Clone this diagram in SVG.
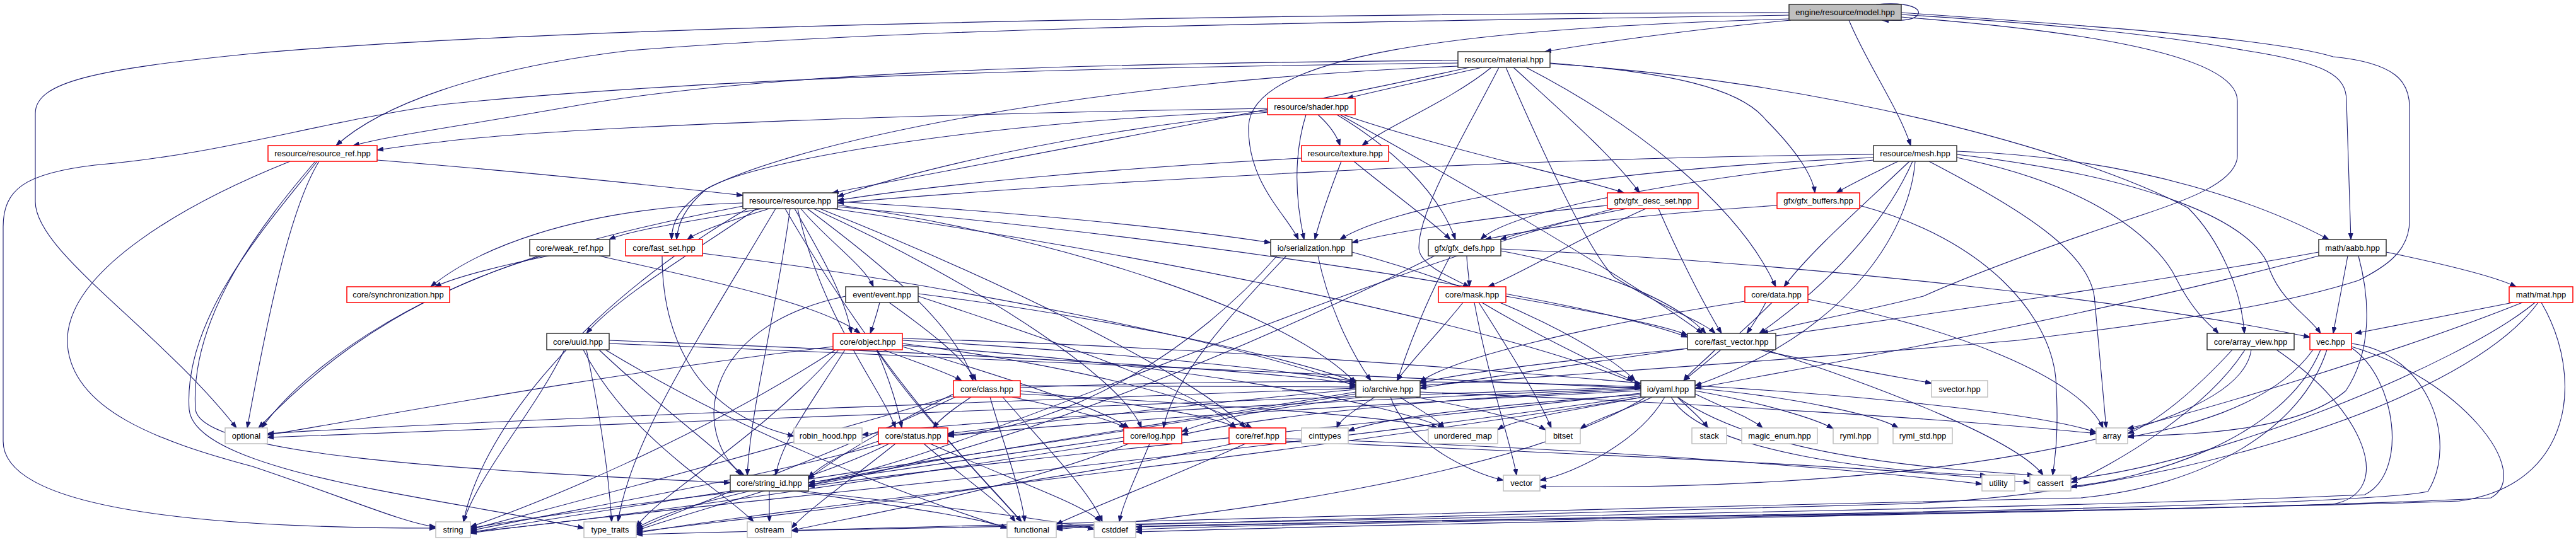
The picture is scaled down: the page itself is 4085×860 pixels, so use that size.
<svg xmlns="http://www.w3.org/2000/svg" width="4085" height="860" viewBox="0 0 4085 860">
<style>
.bg{fill:#fff}
.n rect{fill:#fff;stroke:#333;stroke-width:1.5}
.n.r rect{stroke:#f00}
.n.x rect{stroke:#bfbfbf}
.n.root rect{fill:#bfbfbf;stroke:#333}
.n text{font-family:"Liberation Sans",Arial,Helvetica,sans-serif;font-size:13px;text-anchor:middle;fill:#000}
#edges path{fill:none;stroke:#191970;stroke-width:1.1;marker-end:url(#a)}
</style>
<defs>
<marker id="a" markerWidth="11" markerHeight="8" refX="10" refY="4" orient="auto" markerUnits="userSpaceOnUse">
<path d="M0,0.5 L10,4 L0,7.5 z" fill="#191970" stroke="#191970" stroke-width="1"/>
</marker>
</defs>
<rect class="bg" x="0" y="0" width="4085" height="860"/>
<g id="edges">
<path d="M2975,7 C3030,2 3050,15 3040,25 C3032,33 3010,33 2985,32"/>
<path d="M2840,32 C2700,45 2550,65 2450,82"/>
<path d="M2932,32 C2960,100 3010,170 3030,231"/>
<path d="M2837,24 C2200,35 1500,40 1000,80 C750,110 600,170 533,231"/>
<path d="M2837,20 C2000,22 900,40 400,85 C150,110 56,130 56,180 L56,320 C56,400 250,520 375,679"/>
<path d="M2837,30 C2300,45 1985,90 1980,200 C1978,290 2040,340 2059,380"/>
<path d="M3015,23 C3200,35 3400,50 3560,80 C3690,100 3721,120 3721,160 L3728,380"/>
<path d="M3015,27 C3250,45 3548,80 3548,160 L3548,247 C3548,290 3460,320 3400,340 C3250,390 3140,430 3050,470 C2930,500 2840,515 2794,529"/>
<path d="M3015,20 C3300,40 3600,60 3700,90 C3800,100 3821,130 3821,170 L3821,350 C3821,400 3780,425 3740,445 C3600,490 3400,515 3200,540 C2800,575 2400,600 2252,612"/>
<path d="M2350,107 C2250,130 2180,145 2136,156"/>
<path d="M2365,107 C2300,160 2200,200 2160,231"/>
<path d="M2312,96 C1700,100 1200,115 900,170 C700,205 620,215 560,231"/>
<path d="M2312,100 C1600,108 1050,130 700,166 C500,195 350,245 150,262 C40,275 5,300 5,360 L5,700 C5,820 400,838 691,838"/>
<path d="M2330,107 C2000,180 1500,270 1320,306"/>
<path d="M2400,107 C2480,180 2560,250 2600,306"/>
<path d="M2458,100 C2650,115 2760,140 2800,190 C2850,240 2875,280 2878,306"/>
<path d="M2377,107 C2330,200 2250,330 2250,393 C2250,420 2300,440 2330,455"/>
<path d="M2388,107 C2450,250 2520,400 2560,440 C2640,490 2700,510 2720,529"/>
<path d="M2420,107 C2600,200 2760,330 2816,455"/>
<path d="M2458,101 C2900,130 3300,240 3470,330 C3520,380 3555,460 3559,529"/>
<path d="M2312,105 C1700,130 1250,230 1120,300 C1075,330 1065,355 1065,380"/>
<path d="M2010,172 C1500,180 900,200 700,225 C650,230 620,235 598,238"/>
<path d="M2010,178 C1700,210 1450,270 1328,312"/>
<path d="M2010,176 C1600,190 1200,250 1120,300 C1085,330 1075,355 1073,380"/>
<path d="M2090,182 C2110,200 2120,215 2125,231"/>
<path d="M2071,182 C2050,250 2055,320 2068,380"/>
<path d="M2120,182 C2200,230 2280,300 2308,380"/>
<path d="M2130,182 C2300,240 2500,280 2575,306"/>
<path d="M2125,182 C2300,280 2550,420 2700,529"/>
<path d="M598,254 C800,270 1000,290 1178,310"/>
<path d="M506,256 C460,330 425,500 392,679"/>
<path d="M460,256 C300,320 100,430 107,547 C115,650 250,700 400,740 C550,790 640,830 691,836"/>
<path d="M500,256 C420,350 300,500 310,650 C320,720 700,745 1158,766"/>
<path d="M503,256 C430,350 290,500 300,650 C310,750 700,790 926,838"/>
<path d="M2064,251 C1800,265 1500,290 1328,318"/>
<path d="M2127,256 C2110,300 2095,340 2085,380"/>
<path d="M2147,256 C2200,300 2270,350 2300,380"/>
<path d="M2971,245 C2400,250 1700,290 1328,322"/>
<path d="M2971,250 C2500,270 2200,330 2125,380"/>
<path d="M2971,254 C2700,280 2400,330 2348,380"/>
<path d="M3010,256 C2960,280 2930,295 2912,306"/>
<path d="M3028,256 C2950,330 2870,400 2829,455"/>
<path d="M3033,256 C3000,330 2930,430 2790,529"/>
<path d="M3037,256 C3030,350 2950,520 2688,612"/>
<path d="M3059,256 C3200,330 3320,400 3322,480 L3340,679"/>
<path d="M3103,245 C3400,280 3580,350 3600,430 C3620,480 3660,500 3680,529"/>
<path d="M3103,240 C3400,250 3600,330 3693,380"/>
<path d="M3103,250 C3350,300 3430,400 3450,440 C3480,500 3510,520 3518,529"/>
<path d="M1210,331 C1100,350 1000,365 966,380"/>
<path d="M1220,331 C1160,350 1110,365 1090,380"/>
<path d="M1178,322 C900,330 750,400 683,455"/>
<path d="M1178,327 C800,400 600,480 410,679"/>
<path d="M1185,331 C900,500 760,700 735,828"/>
<path d="M1200,331 C1100,400 980,470 930,529"/>
<path d="M1270,331 C1310,380 1370,420 1385,455"/>
<path d="M1260,331 C1300,400 1340,470 1350,529"/>
<path d="M1280,331 C1400,420 1520,520 1543,604"/>
<path d="M1253,331 C1230,500 1190,650 1185,754"/>
<path d="M1265,331 C1300,500 1400,620 1420,679"/>
<path d="M1328,320 C1600,335 1850,360 2015,385"/>
<path d="M1328,325 C1700,380 2050,500 2150,608"/>
<path d="M1320,331 C1800,400 2400,520 2602,612"/>
<path d="M1245,331 C1400,600 1550,750 1620,828"/>
<path d="M1300,331 C1600,450 1900,600 1975,679"/>
<path d="M1328,328 C1900,380 2500,470 2676,535"/>
<path d="M1230,331 C1100,550 1000,700 980,828"/>
<path d="M1290,331 C1550,450 1780,600 1810,679"/>
<path d="M2549,326 C2350,345 2200,370 2144,385"/>
<path d="M2580,331 C2480,350 2410,370 2379,380"/>
<path d="M2610,331 C2500,380 2420,430 2360,455"/>
<path d="M2630,331 C2660,400 2700,480 2730,529"/>
<path d="M2560,331 C2100,450 1500,740 1282,766"/>
<path d="M2818,326 C2600,340 2450,360 2355,380"/>
<path d="M2949,326 C3150,380 3250,500 3260,600 C3265,680 3260,720 3255,754"/>
<path d="M870,406 C800,420 720,440 690,455"/>
<path d="M860,406 C700,450 500,560 415,679"/>
<path d="M950,406 C1100,440 1300,480 1364,529"/>
<path d="M1050,406 C1050,500 1080,650 1259,692"/>
<path d="M1114,402 C1500,450 1950,540 2150,612"/>
<path d="M2090,406 C2110,500 2150,570 2174,604"/>
<path d="M2144,400 C2400,470 2550,560 2593,604"/>
<path d="M2040,406 C1950,500 1860,600 1845,679"/>
<path d="M2025,406 C1900,550 1700,680 1503,690"/>
<path d="M2326,406 C2326,420 2330,440 2330,455"/>
<path d="M2380,398 C2550,430 2660,480 2705,529"/>
<path d="M2275,406 C2050,520 1600,720 1282,770"/>
<path d="M2300,406 C2260,480 2230,560 2216,604"/>
<path d="M2380,395 C2900,420 3400,480 3663,535"/>
<path d="M3723,406 C3715,450 3705,500 3700,529"/>
<path d="M3740,406 C3760,480 3760,560 3720,620 C3650,680 3500,690 3374,692"/>
<path d="M3784,400 C3880,420 3960,440 3990,455"/>
<path d="M3677,400 C3300,470 2600,560 2252,616"/>
<path d="M3677,406 C3400,480 3000,560 2688,616"/>
<path d="M1395,480 C1390,500 1385,515 1380,529"/>
<path d="M1410,480 C1480,530 1530,570 1548,604"/>
<path d="M1341,470 C1100,520 1100,700 1180,754"/>
<path d="M1456,470 C1700,550 1900,620 1960,679"/>
<path d="M1456,466 C1800,510 2050,570 2150,606"/>
<path d="M895,555 C850,650 760,750 735,828"/>
<path d="M930,555 C950,650 965,750 970,828"/>
<path d="M925,555 C1000,700 1150,780 1195,828"/>
<path d="M960,555 C1200,700 1450,790 1597,838"/>
<path d="M950,555 C1050,650 1150,720 1175,754"/>
<path d="M966,540 C1500,560 2000,585 2150,610"/>
<path d="M966,545 C1600,570 2300,600 2602,616"/>
<path d="M1400,555 C1470,580 1510,595 1525,604"/>
<path d="M1390,555 C1410,600 1425,650 1430,679"/>
<path d="M1340,555 C1280,650 1240,700 1230,754"/>
<path d="M1431,545 C1700,580 1900,630 1985,679"/>
<path d="M1431,550 C1600,600 1750,650 1790,679"/>
<path d="M1431,540 C1800,560 2050,590 2155,606"/>
<path d="M1431,537 C1900,550 2400,590 2602,608"/>
<path d="M1390,555 C1450,650 1580,780 1620,828"/>
<path d="M1330,555 C1200,700 1050,780 1009,836"/>
<path d="M1325,555 C1100,700 850,800 746,836"/>
<path d="M1431,548 C1900,580 2200,640 2290,679"/>
<path d="M1321,550 C900,600 500,680 424,690"/>
<path d="M1540,630 C1510,650 1490,665 1480,679"/>
<path d="M1570,630 C1590,700 1620,780 1625,828"/>
<path d="M1590,630 C1650,700 1730,780 1748,828"/>
<path d="M1618,620 C1800,640 1930,660 1960,679"/>
<path d="M1605,630 C1700,650 1760,665 1785,679"/>
<path d="M1512,625 C1400,680 1320,730 1282,760"/>
<path d="M1618,612 C1850,612 2050,612 2150,614"/>
<path d="M1618,615 C2000,600 2400,605 2602,614"/>
<path d="M1618,625 C1900,640 2200,660 2280,679"/>
<path d="M1512,628 C1200,720 900,800 746,840"/>
<path d="M1515,630 C1300,730 1100,800 1009,840"/>
<path d="M1400,704 C1200,760 900,810 746,842"/>
<path d="M1410,704 C1300,760 1100,810 1009,842"/>
<path d="M1420,704 C1350,760 1280,810 1255,838"/>
<path d="M1465,704 C1530,760 1590,800 1610,828"/>
<path d="M1475,704 C1600,760 1720,800 1745,828"/>
<path d="M1393,700 C1330,720 1300,740 1282,758"/>
<path d="M1823,704 C1800,760 1780,800 1775,828"/>
<path d="M1782,694 C1600,720 1400,750 1282,766"/>
<path d="M1782,700 C1400,760 1000,820 746,844"/>
<path d="M1790,704 C1600,780 1350,820 1255,842"/>
<path d="M1975,704 C1850,760 1720,810 1675,832"/>
<path d="M1955,704 C1600,780 1200,820 1009,844"/>
<path d="M2039,700 C2500,720 3000,740 3219,766"/>
<path d="M2039,696 C2500,710 2900,740 3143,768"/>
<path d="M1220,779 L1220,828"/>
<path d="M1180,779 C1000,800 850,820 746,838"/>
<path d="M1190,779 C1100,800 1050,815 1009,838"/>
<path d="M1260,779 C1400,800 1550,820 1597,838"/>
<path d="M1270,779 C1450,800 1650,820 1735,840"/>
<path d="M2320,480 C2280,530 2240,570 2215,604"/>
<path d="M2350,480 C2450,540 2560,590 2590,604"/>
<path d="M2345,480 C2390,550 2440,630 2460,679"/>
<path d="M2338,480 C2360,600 2395,700 2405,754"/>
<path d="M2388,470 C2500,490 2640,515 2676,532"/>
<path d="M2800,480 C2790,500 2780,515 2770,529"/>
<path d="M2767,478 C2500,520 2300,570 2252,606"/>
<path d="M2810,480 C2760,530 2700,580 2670,604"/>
<path d="M2867,475 C3100,520 3300,600 3335,679"/>
<path d="M2790,555 C2900,580 3020,600 3063,608"/>
<path d="M2720,555 C2700,575 2680,590 2670,604"/>
<path d="M2676,553 C2500,570 2320,590 2252,608"/>
<path d="M2800,555 C3000,620 3200,700 3240,754"/>
<path d="M2180,630 C2150,650 2125,665 2120,679"/>
<path d="M2220,630 C2250,650 2280,665 2290,679"/>
<path d="M2245,630 C2350,650 2430,670 2451,682"/>
<path d="M2205,630 C2230,700 2330,750 2384,762"/>
<path d="M2150,625 C1700,700 1000,800 746,845"/>
<path d="M2150,622 C1800,680 1400,740 1282,770"/>
<path d="M2150,618 C1900,640 1650,670 1503,688"/>
<path d="M2160,630 C2000,650 1920,665 1874,685"/>
<path d="M2252,622 C2700,640 3100,665 3324,688"/>
<path d="M2150,616 C1500,640 700,670 424,688"/>
<path d="M2602,626 C2400,640 2200,660 2138,684"/>
<path d="M2605,630 C2500,650 2400,665 2375,682"/>
<path d="M2620,630 C2580,650 2530,665 2506,680"/>
<path d="M2660,630 C2680,650 2700,665 2708,679"/>
<path d="M2688,625 C2740,650 2780,665 2795,679"/>
<path d="M2688,620 C2800,640 2880,665 2907,680"/>
<path d="M2688,616 C2850,630 2980,660 3010,679"/>
<path d="M2688,612 C3000,630 3250,660 3324,686"/>
<path d="M2640,630 C2600,700 2500,750 2442,762"/>
<path d="M2650,630 C2700,720 3000,750 3150,754"/>
<path d="M2660,630 C2800,730 3100,745 3225,754"/>
<path d="M2602,628 C2000,720 1000,810 746,846"/>
<path d="M2602,624 C2100,680 1500,740 1282,772"/>
<path d="M2602,620 C2200,640 1700,670 1503,692"/>
<path d="M2602,618 C2300,630 2000,660 1874,690"/>
<path d="M2602,614 C1800,640 800,680 424,694"/>
<path d="M2602,616 C2000,640 1500,670 1367,690"/>
<path d="M2605,630 C2000,730 1200,810 1009,846"/>
<path d="M2610,630 C2400,760 1900,820 1675,840"/>
<path d="M3560,555 C3500,650 3350,740 3284,766"/>
<path d="M3570,555 C3550,700 3000,780 2442,772"/>
<path d="M3540,555 C3480,620 3420,670 3374,688"/>
<path d="M3610,555 C3750,650 3800,780 3700,800 C3300,815 2200,825 1801,840"/>
<path d="M3668,555 C3600,650 3450,680 3374,694"/>
<path d="M3680,555 C3620,700 3400,760 3284,772"/>
<path d="M3729,545 C3850,560 3900,700 3850,780 C3700,810 2400,820 1675,838"/>
<path d="M3729,550 C3900,600 4020,750 3950,790 C3600,810 2400,825 1801,844"/>
<path d="M3729,552 C3800,600 3820,750 3750,785 C3200,810 1800,830 1255,842"/>
<path d="M3690,555 C3650,680 3500,770 3300,790 C2500,810 1500,830 1009,848"/>
<path d="M3985,480 C3880,500 3780,520 3735,529"/>
<path d="M4000,480 C3800,560 3500,650 3374,680"/>
<path d="M4020,480 C3900,580 3500,740 3284,760"/>
<path d="M4025,480 C3900,650 3400,790 3000,800 C2500,810 2000,825 1675,836"/>
<path d="M4030,480 C4100,600 4080,770 3900,795 C3500,810 2500,820 1801,836"/>
</g>
<g id="n_model" class="n root"><rect x="2837" y="7" width="178" height="25"/><text x="2926" y="24">engine/resource/model.hpp</text></g>
<g id="n_material" class="n"><rect x="2312" y="82" width="146" height="25"/><text x="2385" y="99">resource/material.hpp</text></g>
<g id="n_shader" class="n r"><rect x="2010" y="156" width="139" height="26"/><text x="2079.5" y="173.5">resource/shader.hpp</text></g>
<g id="n_resource_ref" class="n r"><rect x="425" y="231" width="173" height="25"/><text x="511.5" y="248">resource/resource_ref.hpp</text></g>
<g id="n_texture" class="n r"><rect x="2064" y="231" width="138" height="25"/><text x="2133" y="248">resource/texture.hpp</text></g>
<g id="n_mesh" class="n"><rect x="2971" y="231" width="132" height="25"/><text x="3037" y="248">resource/mesh.hpp</text></g>
<g id="n_resource" class="n"><rect x="1178" y="306" width="150" height="25"/><text x="1253" y="323">resource/resource.hpp</text></g>
<g id="n_gfx_desc_set" class="n r"><rect x="2549" y="306" width="144" height="25"/><text x="2621" y="323">gfx/gfx_desc_set.hpp</text></g>
<g id="n_gfx_buffers" class="n r"><rect x="2818" y="306" width="131" height="25"/><text x="2883.5" y="323">gfx/gfx_buffers.hpp</text></g>
<g id="n_weak_ref" class="n"><rect x="840" y="380" width="127" height="26"/><text x="903.5" y="397.5">core/weak_ref.hpp</text></g>
<g id="n_fast_set" class="n r"><rect x="992" y="380" width="122" height="26"/><text x="1053" y="397.5">core/fast_set.hpp</text></g>
<g id="n_serialization" class="n"><rect x="2015" y="380" width="129" height="26"/><text x="2079.5" y="397.5">io/serialization.hpp</text></g>
<g id="n_gfx_defs" class="n"><rect x="2265" y="380" width="115" height="26"/><text x="2322.5" y="397.5">gfx/gfx_defs.hpp</text></g>
<g id="n_aabb" class="n"><rect x="3677" y="380" width="107" height="26"/><text x="3730.5" y="397.5">math/aabb.hpp</text></g>
<g id="n_sync" class="n r"><rect x="550" y="455" width="163" height="25"/><text x="631.5" y="472">core/synchronization.hpp</text></g>
<g id="n_event" class="n"><rect x="1341" y="455" width="115" height="25"/><text x="1398.5" y="472">event/event.hpp</text></g>
<g id="n_mask" class="n r"><rect x="2281" y="455" width="107" height="25"/><text x="2334.5" y="472">core/mask.hpp</text></g>
<g id="n_data" class="n r"><rect x="2767" y="455" width="100" height="25"/><text x="2817" y="472">core/data.hpp</text></g>
<g id="n_mat" class="n r"><rect x="3979" y="455" width="101" height="25"/><text x="4029.5" y="472">math/mat.hpp</text></g>
<g id="n_uuid" class="n"><rect x="867" y="529" width="99" height="26"/><text x="916.5" y="546.5">core/uuid.hpp</text></g>
<g id="n_object" class="n r"><rect x="1321" y="529" width="110" height="26"/><text x="1376" y="546.5">core/object.hpp</text></g>
<g id="n_fast_vector" class="n"><rect x="2676" y="529" width="140" height="26"/><text x="2746" y="546.5">core/fast_vector.hpp</text></g>
<g id="n_array_view" class="n"><rect x="3500" y="529" width="138" height="26"/><text x="3569" y="546.5">core/array_view.hpp</text></g>
<g id="n_vec" class="n r"><rect x="3663" y="529" width="66" height="26"/><text x="3696" y="546.5">vec.hpp</text></g>
<g id="n_class" class="n r"><rect x="1512" y="604" width="106" height="26"/><text x="1565" y="621.5">core/class.hpp</text></g>
<g id="n_archive" class="n"><rect x="2150" y="604" width="102" height="26"/><text x="2201" y="621.5">io/archive.hpp</text></g>
<g id="n_yaml" class="n"><rect x="2602" y="604" width="86" height="26"/><text x="2645" y="621.5">io/yaml.hpp</text></g>
<g id="n_svector" class="n x"><rect x="3063" y="604" width="89" height="26"/><text x="3107.5" y="621.5">svector.hpp</text></g>
<g id="n_optional" class="n x"><rect x="357" y="679" width="67" height="25"/><text x="390.5" y="696">optional</text></g>
<g id="n_robin_hood" class="n x"><rect x="1259" y="679" width="108" height="25"/><text x="1313" y="696">robin_hood.hpp</text></g>
<g id="n_status" class="n r"><rect x="1393" y="679" width="110" height="25"/><text x="1448" y="696">core/status.hpp</text></g>
<g id="n_log" class="n r"><rect x="1782" y="679" width="92" height="25"/><text x="1828" y="696">core/log.hpp</text></g>
<g id="n_ref" class="n r"><rect x="1949" y="679" width="90" height="25"/><text x="1994" y="696">core/ref.hpp</text></g>
<g id="n_cinttypes" class="n x"><rect x="2064" y="679" width="74" height="25"/><text x="2101" y="696">cinttypes</text></g>
<g id="n_unordered_map" class="n x"><rect x="2265" y="679" width="110" height="25"/><text x="2320" y="696">unordered_map</text></g>
<g id="n_bitset" class="n x"><rect x="2451" y="679" width="55" height="25"/><text x="2478.5" y="696">bitset</text></g>
<g id="n_stack" class="n x"><rect x="2683" y="679" width="55" height="25"/><text x="2710.5" y="696">stack</text></g>
<g id="n_magic_enum" class="n x"><rect x="2762" y="679" width="120" height="25"/><text x="2822" y="696">magic_enum.hpp</text></g>
<g id="n_ryml" class="n x"><rect x="2907" y="679" width="71" height="25"/><text x="2942.5" y="696">ryml.hpp</text></g>
<g id="n_ryml_std" class="n x"><rect x="3002" y="679" width="94" height="25"/><text x="3049" y="696">ryml_std.hpp</text></g>
<g id="n_array" class="n x"><rect x="3324" y="679" width="50" height="25"/><text x="3349" y="696">array</text></g>
<g id="n_string_id" class="n"><rect x="1158" y="754" width="124" height="25"/><text x="1220" y="771">core/string_id.hpp</text></g>
<g id="n_vector" class="n x"><rect x="2384" y="754" width="58" height="25"/><text x="2413" y="771">vector</text></g>
<g id="n_utility" class="n x"><rect x="3143" y="754" width="52" height="25"/><text x="3169" y="771">utility</text></g>
<g id="n_cassert" class="n x"><rect x="3219" y="754" width="65" height="25"/><text x="3251.5" y="771">cassert</text></g>
<g id="n_string" class="n x"><rect x="691" y="828" width="55" height="25"/><text x="718.5" y="845">string</text></g>
<g id="n_type_traits" class="n x"><rect x="926" y="828" width="83" height="25"/><text x="967.5" y="845">type_traits</text></g>
<g id="n_ostream" class="n x"><rect x="1185" y="828" width="70" height="25"/><text x="1220" y="845">ostream</text></g>
<g id="n_functional" class="n x"><rect x="1597" y="828" width="78" height="25"/><text x="1636" y="845">functional</text></g>
<g id="n_cstddef" class="n x"><rect x="1735" y="828" width="66" height="25"/><text x="1768" y="845">cstddef</text></g>
</svg>
